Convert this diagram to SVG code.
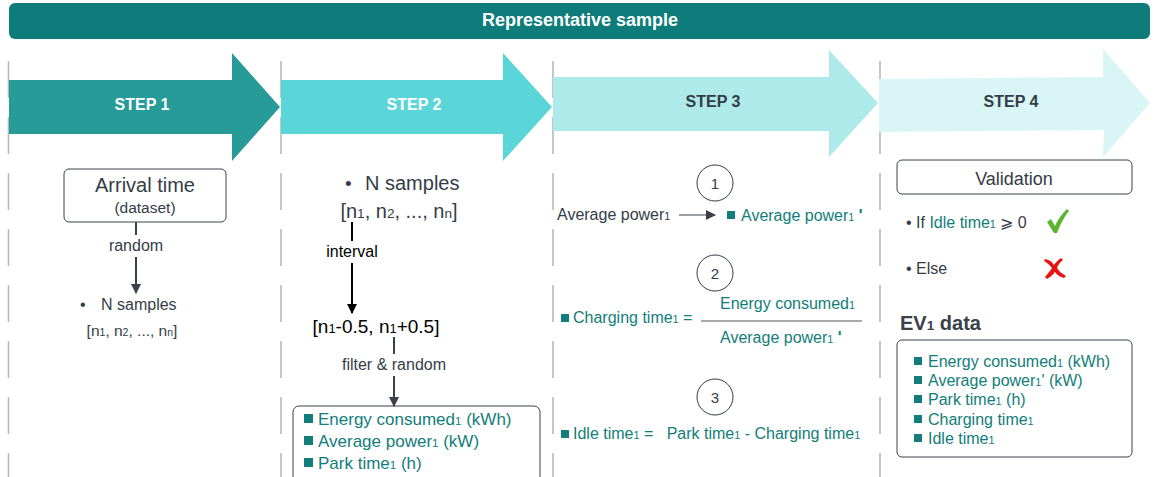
<svg xmlns="http://www.w3.org/2000/svg" width="1157" height="477" viewBox="0 0 1157 477">
  <style>
    text { font-family: "Liberation Sans", Arial, sans-serif; fill: #333d47; }
    .step { font-size: 16px; font-weight: bold; text-anchor: middle; }
    .teal { fill: #127d7a; }
    .sub { font-size: 0.68em; }
    .box { fill: #ffffff; stroke: #3a414a; stroke-width: 1; }
    .lane { stroke: #b9b9b9; stroke-width: 1.6; stroke-dasharray: 37 19; }
    .conn { stroke: #3a414a; stroke-width: 2; fill: none; }
    .lbl { font-size: 16px; text-anchor: middle; }
    .circ { fill: #ffffff; stroke: #333d47; stroke-width: 1; }
  </style>
  <defs>
    <marker id="ah" viewBox="0 0 10 10" refX="9" refY="5" markerWidth="5" markerHeight="5" orient="auto" markerUnits="strokeWidth">
      <path d="M0,0 L10,5 L0,10 z" fill="#3a414a"/>
    </marker>
    <marker id="ahb" viewBox="0 0 10 10" refX="9" refY="5" markerWidth="5" markerHeight="5" orient="auto" markerUnits="strokeWidth">
      <path d="M0,0 L10,5 L0,10 z" fill="#000000"/>
    </marker>
    <marker id="ahs" viewBox="0 0 10 10" refX="9" refY="5" markerWidth="12" markerHeight="10" orient="auto" markerUnits="userSpaceOnUse">
      <path d="M0,0 L10,5 L0,10 z" fill="#3a414a"/>
    </marker>
  </defs>

  <!-- swimlane separators -->
  <g id="lanes">
    <line class="lane" x1="8.5" y1="61" x2="8.5" y2="477"/>
    <line class="lane" x1="281" y1="61" x2="281" y2="477"/>
    <line class="lane" x1="553" y1="61" x2="553" y2="477"/>
    <line class="lane" x1="880" y1="61" x2="880" y2="477"/>
  </g>

  <!-- title banner -->
  <g id="banner">
    <rect x="9" y="3" width="1141" height="36" rx="6" fill="#0e7c7b"/>
    <text x="580" y="26" text-anchor="middle" font-size="18" font-weight="bold" style="fill:#ffffff">Representative sample</text>
  </g>

  <!-- step arrows -->
  <g id="step1">
    <polygon points="9,80 232,80 232,53 280,107 232,161 232,134 9,134" fill="#279b98"/>
    <text class="step" x="142" y="110" style="fill:#ffffff">STEP 1</text>
  </g>
  <g id="step2">
    <polygon points="281,80 503,80 503,53 552,107 503,161 503,134 281,134" fill="#5bd6d8"/>
    <text class="step" x="414" y="110" style="fill:#ffffff">STEP 2</text>
  </g>
  <g id="step3">
    <polygon points="553,77 829,77 829,50 878,103 829,157 829,131 553,131" fill="#aeeaea"/>
    <text class="step" x="713" y="107">STEP 3</text>
  </g>
  <g id="step4">
    <polygon points="879,79 1103,77 1103,49 1150,103 1103,157 1104,130 879,132" fill="#daf5f5"/>
    <text class="step" x="1011" y="107">STEP 4</text>
  </g>

  <!-- step 1 contents -->
  <g id="arrival">
    <rect class="box" x="64" y="169" width="162" height="53" rx="5"/>
    <text x="145" y="192" font-size="20" text-anchor="middle">Arrival time</text>
    <text x="145" y="213" font-size="15.5" text-anchor="middle">(dataset)</text>
  </g>
  <g id="samples1">
    <text x="80" y="310" font-size="16">•</text>
    <text x="101" y="310" font-size="16">N samples</text>
    <text x="132" y="336" font-size="15.5" text-anchor="middle">[n<tspan class="sub">1</tspan>, n<tspan class="sub">2</tspan>, ..., n<tspan class="sub">n</tspan>]</text>
  </g>

  <!-- step 2 contents -->
  <g id="samples2">
    <text x="345" y="190" font-size="19">•</text>
    <text x="365" y="190" font-size="20">N samples</text>
    <text x="399" y="218" font-size="20" text-anchor="middle">[n<tspan class="sub">1</tspan>, n<tspan class="sub">2</tspan>, ..., n<tspan class="sub">n</tspan>]</text>
  </g>
  <g id="window">
    <text x="376" y="333" font-size="19" text-anchor="middle" style="fill:#000000">[n<tspan class="sub">1</tspan>-0.5, n<tspan class="sub">1</tspan>+0.5]</text>
  </g>
  <g id="record">
    <rect class="box" x="293" y="406" width="247" height="78" rx="6"/>
    <rect x="304" y="414" width="9" height="9" fill="#127d7a"/>
    <text class="teal" x="318" y="425" font-size="17">Energy consumed<tspan class="sub">1</tspan> (kWh)</text>
    <rect x="304" y="436" width="9" height="9" fill="#127d7a"/>
    <text class="teal" x="318" y="447" font-size="17">Average power<tspan class="sub">1</tspan> (kW)</text>
    <rect x="304" y="458" width="9" height="9" fill="#127d7a"/>
    <text class="teal" x="318" y="469" font-size="17">Park time<tspan class="sub">1</tspan> (h)</text>
  </g>

  <!-- step 3 contents -->
  <g id="calc1">
    <circle class="circ" cx="715" cy="183" r="18"/>
    <text x="715" y="189" font-size="15" text-anchor="middle">1</text>
    <text x="557" y="220" font-size="16">Average power<tspan class="sub">1</tspan></text>
    <rect x="727" y="211" width="8" height="8" fill="#127d7a"/>
    <text class="teal" x="741" y="221" font-size="16">Average power<tspan class="sub">1</tspan> <tspan font-weight="bold">'</tspan></text>
  </g>
  <g id="calc2">
    <circle class="circ" cx="715" cy="273" r="18"/>
    <text x="715" y="279" font-size="15" text-anchor="middle">2</text>
    <rect x="561" y="314" width="8" height="8" fill="#127d7a"/>
    <text class="teal" x="573" y="323" font-size="16">Charging time<tspan class="sub">1</tspan> =</text>
    <text class="teal" x="720" y="309" font-size="16">Energy consumed<tspan class="sub">1</tspan></text>
    <line x1="701" y1="321" x2="862" y2="321" stroke="#555555" stroke-width="1"/>
    <text class="teal" x="720" y="343" font-size="16">Average power<tspan class="sub">1</tspan> <tspan font-weight="bold">'</tspan></text>
  </g>
  <g id="calc3">
    <circle class="circ" cx="715" cy="397" r="18"/>
    <text x="715" y="403" font-size="15" text-anchor="middle">3</text>
    <rect x="561" y="430" width="8" height="8" fill="#127d7a"/>
    <text class="teal" x="573" y="439" font-size="16" xml:space="preserve">Idle time<tspan class="sub">1</tspan> =   Park time<tspan class="sub">1</tspan> - Charging time<tspan class="sub">1</tspan></text>
  </g>

  <!-- step 4 contents -->
  <g id="validation">
    <rect class="box" x="897" y="160" width="235" height="34" rx="5"/>
    <text x="1014" y="185" font-size="18" text-anchor="middle">Validation</text>
    <text x="906" y="228" font-size="16">• If <tspan class="teal">Idle time<tspan class="sub">1</tspan></tspan> ⩾ 0</text>
    <path d="M1047,222 L1051,219 L1055,226 C1058,219 1062,214 1067,209 L1069,211 C1064,217 1060,225 1057,233 L1054,233 Z" fill="#5cb531"/>
    <text x="906" y="274" font-size="16">• Else</text>
    <path d="M1045,259 C1050,260 1052,262 1054,265 C1056,262 1058,260 1061,258 L1063,260 C1060,262 1058,265 1057,268 C1059,271 1062,274 1066,276 L1064,278 C1060,277 1057,275 1055,272 C1053,275 1050,277 1047,279 L1045,277 C1048,273 1051,270 1052,268 C1050,266 1048,263 1044,261 Z" fill="#e81414"/>
  </g>
  <g id="ev-data">
    <text x="900" y="330" font-size="20" font-weight="bold" style="fill:#3a414a">EV<tspan class="sub">1</tspan> data</text>
    <rect class="box" x="897" y="340" width="235" height="117" rx="5"/>
    <rect x="914" y="357" width="8" height="8" fill="#127d7a"/>
    <text class="teal" x="928" y="367" font-size="16">Energy consumed<tspan class="sub">1</tspan> (kWh)</text>
    <rect x="914" y="376" width="8" height="8" fill="#127d7a"/>
    <text class="teal" x="928" y="386" font-size="16">Average power<tspan class="sub">1</tspan>' (kW)</text>
    <rect x="914" y="395" width="8" height="8" fill="#127d7a"/>
    <text class="teal" x="928" y="405" font-size="16">Park time<tspan class="sub">1</tspan> (h)</text>
    <rect x="914" y="415" width="8" height="8" fill="#127d7a"/>
    <text class="teal" x="928" y="425" font-size="16">Charging time<tspan class="sub">1</tspan></text>
    <rect x="914" y="434" width="8" height="8" fill="#127d7a"/>
    <text class="teal" x="928" y="444" font-size="16">Idle time<tspan class="sub">1</tspan></text>
  </g>

  <!-- connectors -->
  <g id="connectors">
    <line class="conn" x1="136" y1="222" x2="136" y2="235"/>
    <line class="conn" x1="136" y1="257" x2="136" y2="293" marker-end="url(#ah)"/>
    <text class="lbl" x="136" y="251">random</text>

    <line x1="352" y1="222" x2="352" y2="241" stroke="#000000" stroke-width="2"/>
    <line x1="352" y1="263" x2="352" y2="313" stroke="#000000" stroke-width="2" marker-end="url(#ahb)"/>
    <text class="lbl" x="352" y="257" style="fill:#000000">interval</text>

    <line class="conn" x1="394" y1="337" x2="394" y2="354"/>
    <line class="conn" x1="394" y1="376" x2="394" y2="406" marker-end="url(#ah)"/>
    <text class="lbl" x="394" y="370">filter &amp; random</text>

    <line x1="679" y1="215" x2="715" y2="215" stroke="#3a414a" stroke-width="1.2" marker-end="url(#ahs)"/>
  </g>
</svg>
